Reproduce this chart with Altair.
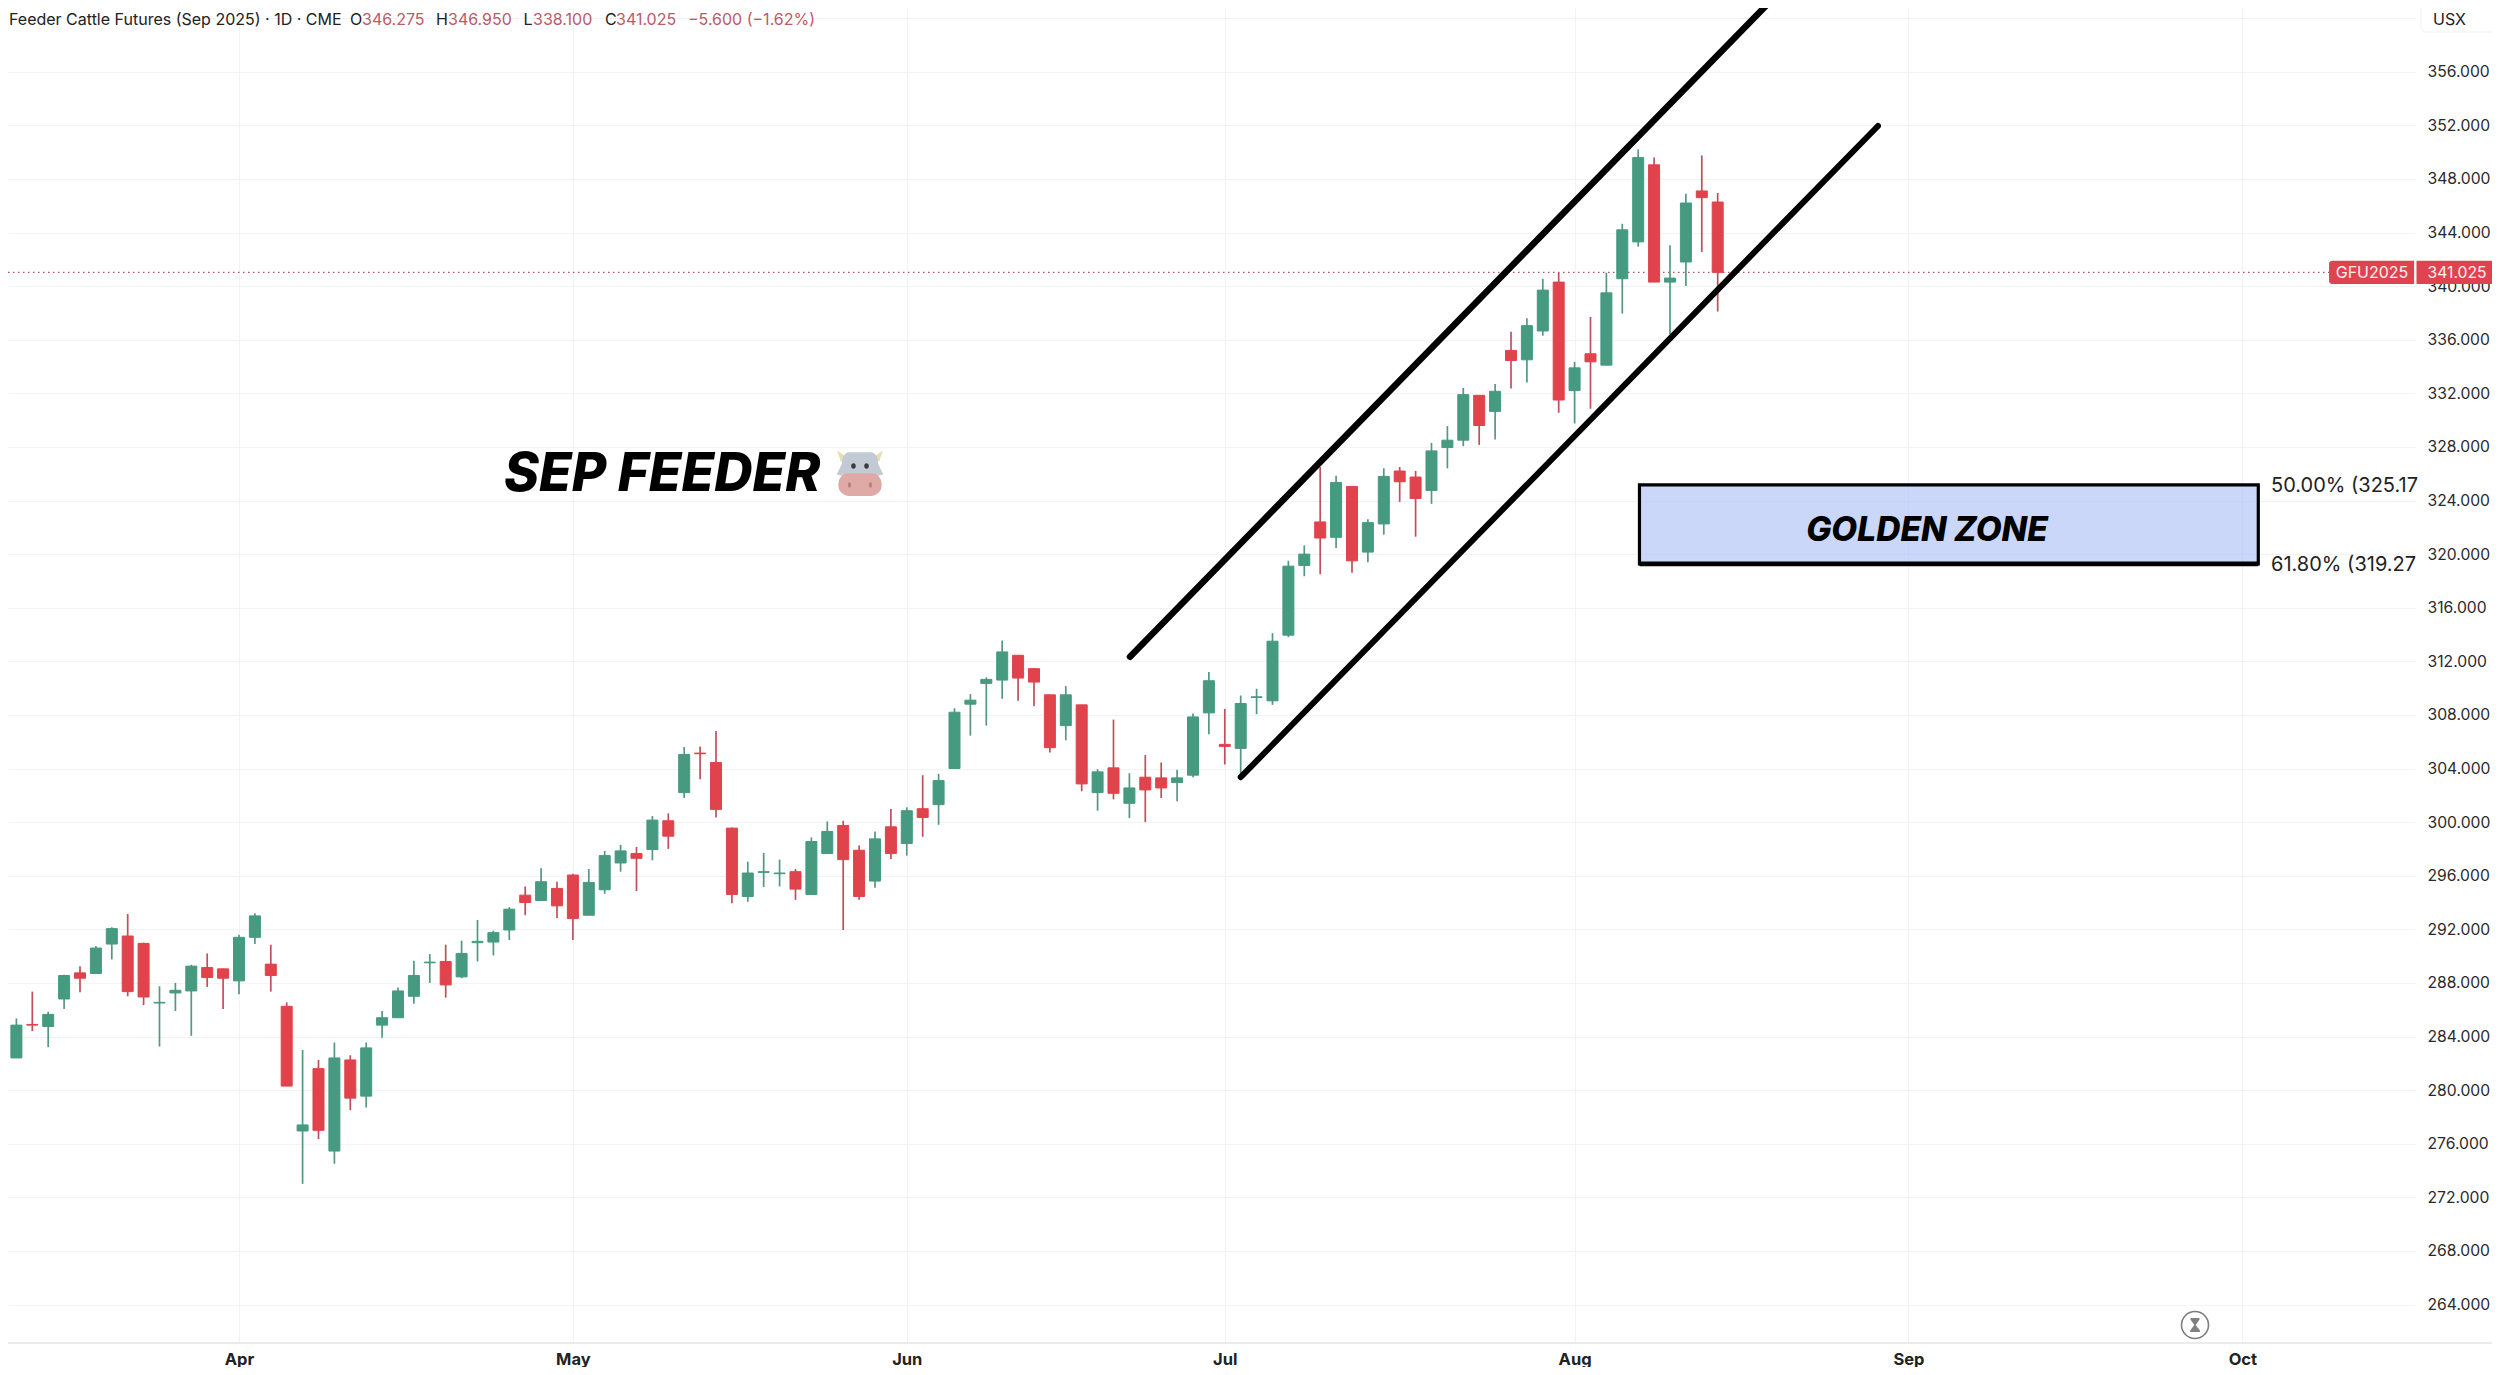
import altair as alt
import pandas as pd

# ---- data -----------------------------------------------------------------
first_index = -15
opens = [281.0,282.4,284.9,284.75,286.8,288.75,288.7,290.9,291.5,290.95,286.5,287.25,287.4,289.15,289.05,
         288.15,291.4,289.4,286.25,276.95,281.6,275.45,282.25,279.55,284.85,285.4,287.0,289.5,289.6,288.45,
         291.0,291.05,291.95,294.55,294.15,295.05,296.05,293.05,294.95,296.95,297.65,297.95,300.1,302.2,305.15,
         304.45,299.55,294.45,296.25,296.15,296.3,294.6,297.65,299.75,297.9,295.6,299.65,298.4,301.0,301.3,
         304.0,308.8,310.35,310.6,312.45,311.45,309.5,307.2,308.75,302.2,304.05,301.4,303.35,303.3,302.95,
         303.5,308.15,305.8,305.5,309.3,309.05,313.95,319.15,322.4,321.25,325.05,320.15,322.25,326.2,325.75,
         324.75,327.95,328.5,331.85,330.65,335.2,334.5,336.65,340.3,332.2,334.95,334.1,340.55,343.3,349.05,
         340.3,341.8,347.1,346.275]
highs = [283.0,285.35,287.35,285.85,288.6,289.25,290.75,292.15,293.15,291.0,287.75,288.0,289.35,290.2,289.05,
         291.6,293.2,290.85,286.55,283.0,282.25,283.55,282.6,283.55,285.9,287.65,289.65,290.15,290.85,291.15,
         292.7,291.9,293.65,295.2,296.55,295.55,296.15,296.5,297.85,298.3,298.15,300.45,300.65,305.6,305.65,
         306.8,299.6,297.05,297.7,297.2,296.5,298.85,300.05,300.1,298.25,299.3,300.98,301.1,303.5,303.6,
         308.5,309.55,310.8,313.55,312.45,311.5,309.5,310.15,308.75,303.95,307.65,303.65,305.0,304.45,303.9,
         308.1,311.2,308.45,309.45,309.95,314.1,319.5,320.65,326.5,325.85,325.05,322.6,326.4,326.5,326.2,
         328.3,329.55,332.4,331.85,332.7,336.6,337.6,340.55,341.0,334.35,337.7,341.0,344.65,350.2,349.6,
         343.05,346.9,349.75,346.95]
lows = [280.3,282.4,284.4,283.2,286.05,287.3,288.7,289.75,287.0,286.35,283.25,285.9,284.05,287.7,286.05,
        287.15,290.9,287.35,280.3,273.0,276.35,274.5,278.5,278.7,283.9,285.4,286.45,288.0,286.9,288.35,
        289.6,290.05,291.2,293.05,294.15,292.85,291.2,293.05,294.65,296.3,294.85,297.15,298.0,301.8,303.2,
        300.35,293.95,294.05,295.15,295.2,294.2,294.6,297.65,291.95,294.2,295.1,297.25,297.5,298.9,299.8,
        304.0,306.45,307.2,309.2,309.05,308.65,305.2,306.1,302.3,300.85,301.7,300.3,300.0,301.8,301.55,
        303.35,306.55,304.3,303.6,308.05,308.75,313.8,318.35,318.5,320.45,318.6,319.4,321.45,323.9,321.3,
        323.75,326.4,328.05,328.15,328.55,332.35,332.8,336.3,330.55,329.75,330.85,334.1,337.95,342.95,340.3,
        336.4,340.0,342.55,338.1]
closes = [282.0,284.85,284.85,285.65,288.55,288.35,290.6,292.05,287.35,286.95,286.55,287.45,289.25,288.4,288.35,
          291.4,293.0,288.55,280.3,277.4,277.0,282.4,279.4,283.15,285.4,287.4,288.55,289.55,287.85,290.2,
          291.1,291.75,293.5,294.0,295.55,293.75,292.8,295.5,297.5,297.85,297.3,300.15,298.95,305.05,305.1,
          300.95,294.6,296.2,296.3,296.2,295.0,298.55,299.3,297.2,294.45,298.75,297.65,300.85,300.35,303.1,
          308.2,309.1,310.65,312.7,310.75,310.45,305.55,309.5,302.85,303.75,302.15,302.55,302.4,302.55,303.3,
          307.85,310.55,305.65,308.85,309.35,313.5,319.1,320.0,321.2,325.35,319.5,322.35,325.8,325.4,324.15,
          327.7,328.5,331.9,329.6,332.15,334.45,337.05,339.7,331.5,333.9,334.35,339.5,344.2,349.6,340.3,
          340.6,346.2,346.6,341.025]

month_positions = [0, 21, 42, 62, 84, 105, 126]
month_labels = ["Apr", "May", "Jun", "Jul", "Aug", "Sep", "Oct"]
price_ticks = [264 + 4 * k for k in range(25)]

channel_upper = {"i": 56.04, "i2": 96.1, "p": 312.34, "p2": 361.0}
channel_lower = {"i": 63.0, "i2": 103.08, "p": 303.35, "p2": 351.95}
zone = {"i": 88.08, "i2": 127.0, "p": 325.17, "p2": 319.27}
last_price = 341.025

title_text = "Feeder Cattle Futures (Sep 2025) · 1D · CME"
ohlc_letters = ["O", "H", "L", "C"]
ohlc_values = ["346.275", "346.950", "338.100", "341.025"]
change_text = "−5.600 (−1.62%)"
fib_labels = ["50.00% (325.17", "61.80% (319.27"]

# ---- styles ----------------------------------------------------------------
GREEN, RED = "#469A80", "#E0434B"
GREEN_W, RED_W = "#55977F", "#C04F5C"
TXT = "#222222"
MUTED_RED = "#BC5A66"
GRID = "#F2F3F5"
FONT = "Inter"

W, H = 2407, 1335
x_dom = [-14.528, 136.856]
y_dom = [261.127, 360.754]

df = pd.DataFrame({"o": opens, "h": highs, "l": lows, "c": closes})
df["i"] = range(first_index, first_index + len(df))
df["dir"] = ["up" if c >= o else "down" for o, c in zip(opens, closes)]

xs = alt.Scale(domain=x_dom, nice=False, zero=False, padding=0)
ys = alt.Scale(domain=y_dom, nice=False, zero=False, padding=0)

label_map = "{" + ",".join(f"{p}:'{m}'" for p, m in zip(month_positions, month_labels)) + "}"
x_axis = alt.Axis(
    values=month_positions, labelExpr=label_map + "[datum.value]", grid=True, gridColor=GRID,
    gridWidth=1.2, ticks=False, domain=False, labelPadding=8, labelFont=FONT, labelFontSize=16.5,
    labelFontWeight=700, labelColor=TXT, labelOverlap=False, labelBound=False, labelFlush=False, title=None)
y_axis = alt.Axis(
    orient="right", values=price_ticks, labelExpr="datum.value >= 360 ? '' : format(datum.value, '.3f')",
    grid=True, gridColor=GRID, gridWidth=1.2,
    ticks=False, domain=False, labelPadding=12, labelFont=FONT, labelFontSize=15.7,
    labelColor="#2A2A2E", labelOverlap=False, labelBound=False, labelFlush=False, title=None)

X = lambda f: alt.X(f, type="quantitative", scale=xs, axis=x_axis)
Y = lambda f: alt.Y(f, type="quantitative", scale=ys, axis=y_axis)
X2 = lambda f: alt.X2(f)
Y2 = lambda f: alt.Y2(f)


def one(**row):
    return alt.Chart(alt.Data(values=[row]))


def label(text, px, py, size=16, color=TXT, align="left", weight=400, style="normal"):
    """Annotation placed in image pixels (the svg starts 8px in)."""
    return one(t=text).mark_text(
        font=FONT, fontSize=size, color=color, align=align, baseline="middle",
        fontWeight=weight, fontStyle=style,
    ).encode(x=alt.value(px - 8), y=alt.value(py - 8), text="t:N")


baseline = alt.Chart(alt.Data(values=[{"a": 1}])).mark_rule(color="#E3E4E8", strokeWidth=1.5).encode(
    x=alt.value(0), x2=alt.value(2484), y=alt.value(H))

zone_rect = one(**zone).mark_rect(fill="#A9BCF5", fillOpacity=0.6, stroke="#000000", strokeWidth=3.2).encode(
    x=X("i"), x2=X2("i2"), y=Y("p"), y2=Y2("p2"))
zone_bottom = one(**zone).mark_rule(color="#000000", strokeWidth=4.6).encode(
    x=X("i"), x2=X2("i2"), y=Y("p2"))

price_line = one(i=x_dom[0], i2=131.45, p=last_price).mark_rule(
    color="#B8505C", strokeWidth=1.4, strokeDash=[1.5, 3.5]).encode(x=X("i"), x2=X2("i2"), y=Y("p"))


def candles(direction, body_color, wick_color):
    base = alt.Chart(df).transform_filter(alt.datum.dir == direction)
    wick = base.mark_rule(strokeWidth=1.7, clip=True, color=wick_color).encode(x=X("i"), y=Y("l"), y2=Y2("h"))
    body = base.mark_bar(size=11, strokeWidth=1, clip=True, color=body_color, stroke=body_color).encode(
        x=X("i"), y=Y("o"), y2=Y2("c"))
    return [wick, body]


ch_up = one(**channel_upper).mark_rule(color="#000000", strokeWidth=6.5, strokeCap="round", clip=True).encode(
    x=X("i"), x2=X2("i2"), y=Y("p"), y2=Y2("p2"))
ch_lo = one(**channel_lower).mark_rule(color="#000000", strokeWidth=6, strokeCap="round", clip=True).encode(
    x=X("i"), x2=X2("i2"), y=Y("p"), y2=Y2("p2"))

usx_box = alt.Chart(alt.Data(values=[{"a": 1}])).mark_rect(
    fill="#FFFFFF", stroke="#F0F0F3", strokeWidth=1, cornerRadiusBottomLeft=5).encode(
    x=alt.value(2413), x2=alt.value(2500), y=alt.value(-5), y2=alt.value(24))

tag_name = one(i=131.45, i2=136.8, p=last_price + 0.86, p2=last_price - 0.86).mark_rect(
    fill="#DF4350", cornerRadiusTopLeft=3, cornerRadiusBottomLeft=3).encode(
    x=X("i"), x2=X2("i2"), y=Y("p"), y2=Y2("p2"))
tag_val = one(i=136.95, i2=143.0, p=last_price + 0.86, p2=last_price - 0.86).mark_rect(fill="#DF4350").encode(
    x=X("i"), x2=X2("i2"), y=Y("p"), y2=Y2("p2"))

# cow face drawn from vector shapes (no emoji font is installed)
COW_X, COW_Y = 860 - 8, 473.3 - 8
COW_SIZE = 46.6 ** 2
cow_parts = [
    ("M-0.98,-0.98 L-0.62,-0.72 L-0.82,-0.48 Z M0.98,-0.98 L0.62,-0.72 L0.82,-0.48 Z", "#E9DDB0"),
    ("M-0.45,-0.9 L0.45,-0.9 C0.7,-0.9 0.8,-0.6 0.78,-0.4 L1,0.05 L0.6,0.15 L-0.6,0.15 L-1,0.05 L-0.78,-0.4 "
     "C-0.8,-0.6 -0.7,-0.9 -0.45,-0.9 Z", "#C2CBD4"),
    ("M-0.5,0 L0.5,0 C0.8,0 0.93,0.25 0.93,0.5 C0.93,0.8 0.7,0.97 0.45,0.97 L-0.45,0.97 "
     "C-0.7,0.97 -0.93,0.8 -0.93,0.5 C-0.93,0.25 -0.8,0 -0.5,0 Z", "#DFA9A5"),
    ("M-0.38,-0.31 A0.1,0.12 0 1 0 -0.18,-0.31 A0.1,0.12 0 1 0 -0.38,-0.31 Z "
     "M0.18,-0.31 A0.1,0.12 0 1 0 0.38,-0.31 A0.1,0.12 0 1 0 0.18,-0.31 Z", "#3A3A40"),
    ("M-0.52,0.5 A0.07,0.12 0 1 0 -0.38,0.5 A0.07,0.12 0 1 0 -0.52,0.5 Z "
     "M0.38,0.5 A0.07,0.12 0 1 0 0.52,0.5 A0.07,0.12 0 1 0 0.38,0.5 Z", "#B5827D"),
]
cow = [
    alt.Chart(alt.Data(values=[{"a": 1}])).mark_point(
        shape=path, size=COW_SIZE, filled=True, fill=col, opacity=1, strokeWidth=0
    ).encode(x=alt.value(COW_X), y=alt.value(COW_Y))
    for path, col in cow_parts
]

# hourglass badge
badge = [
    alt.Chart(alt.Data(values=[{"a": 1}])).mark_point(
        shape="circle", size=27 ** 2, filled=False, stroke="#7C7C7C", strokeWidth=1.6, opacity=1
    ).encode(x=alt.value(2195 - 8), y=alt.value(1325 - 8)),
    alt.Chart(alt.Data(values=[{"a": 1}])).mark_point(
        shape="M-0.65,-1 L0.65,-1 L0.65,-0.8 L0.12,-0.05 L0.12,0.05 L0.7,0.8 L0.7,1 L-0.7,1 L-0.7,0.8 "
              "L-0.12,0.05 L-0.12,-0.05 L-0.65,-0.8 Z",
        size=14 ** 2, filled=True, fill="#808080", opacity=1, strokeWidth=0
    ).encode(x=alt.value(2195 - 8), y=alt.value(1325 - 8)),
]

HS = 16
HY = 20
texts = [
    label(title_text, 9, HY, size=HS),
    label(ohlc_letters[0], 350, HY, size=HS), label(ohlc_values[0], 362, HY, size=HS, color=MUTED_RED),
    label(ohlc_letters[1], 436, HY, size=HS), label(ohlc_values[1], 448, HY, size=HS, color=MUTED_RED),
    label(ohlc_letters[2], 523.5, HY, size=HS), label(ohlc_values[2], 533, HY, size=HS, color=MUTED_RED),
    label(ohlc_letters[3], 605, HY, size=HS), label(ohlc_values[3], 616, HY, size=HS, color=MUTED_RED),
    label(change_text, 688, HY, size=HS, color=MUTED_RED),
    label("USX", 2433, HY, size=16),
    label("GFU2025", 2372, 272.5, size=16, color="#FFF0F0", align="center"),
    label("341.025", 2457, 272.5, size=15.7, color="#FFF0F0", align="center"),
    label("SEP FEEDER", 504, 475, size=53, color="#000000", weight=800, style="italic"),
    label("GOLDEN ZONE", 1927, 530.5, size=33.5, color="#000000", align="center", weight=800, style="italic"),
    label(fib_labels[0], 2271, 485.5, size=20),
    label(fib_labels[1], 2271, 565, size=20),
]

chart = alt.layer(
    baseline, zone_rect, zone_bottom, price_line,
    *candles("up", GREEN, GREEN_W), *candles("down", RED, RED_W),
    ch_up, ch_lo, usx_box, tag_name, tag_val, *cow, *badge, *texts,
).properties(
    width=W, height=H, background="#FFFFFF",
    padding={"left": 0, "top": 0, "right": 77, "bottom": 24},
    autosize=alt.AutoSizeParams(type="none"),
).configure_view(stroke=None)

chart.save("out.html", embed_options={"renderer": "svg", "actions": False})
